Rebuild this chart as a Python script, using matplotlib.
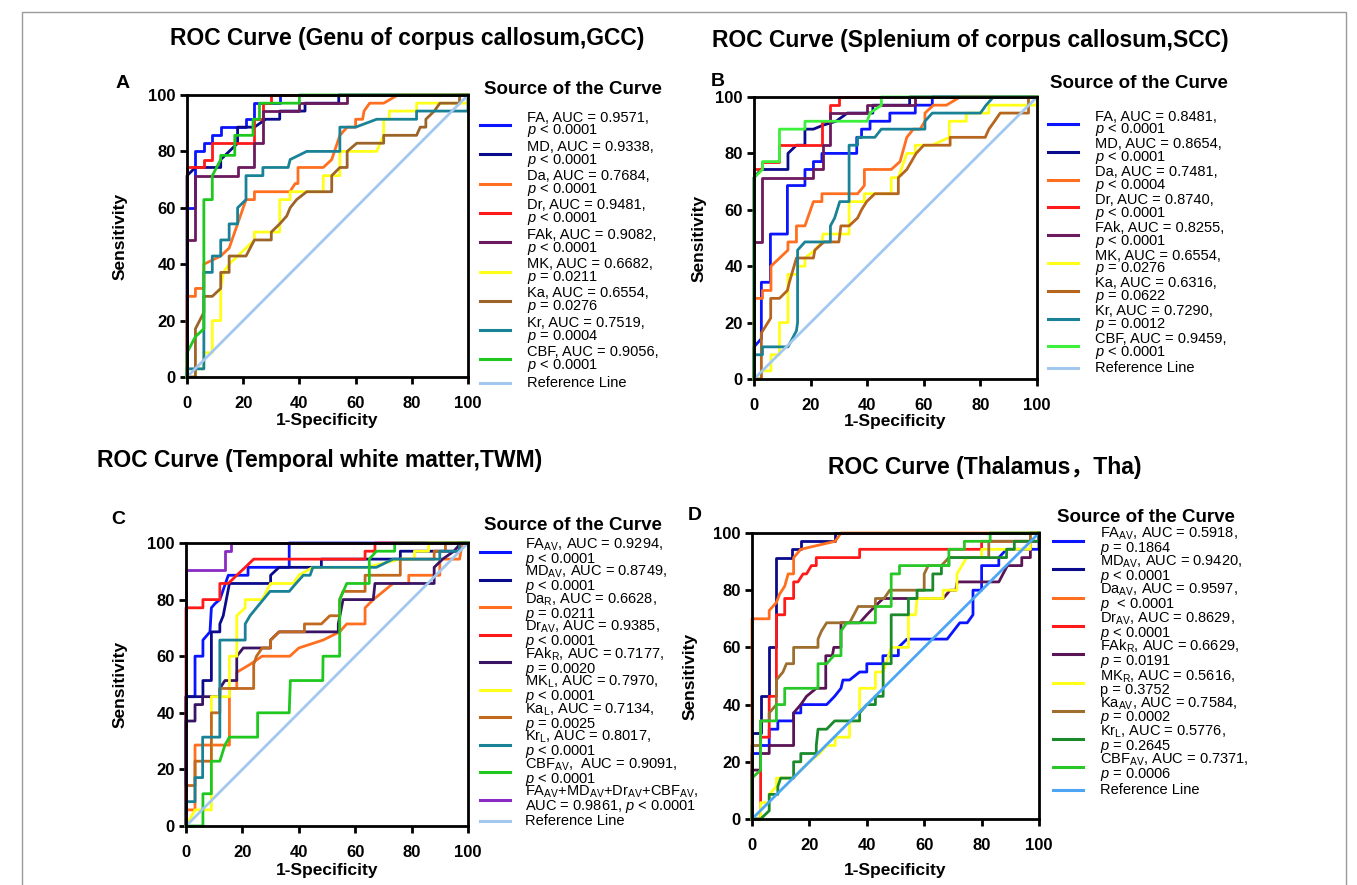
import matplotlib
matplotlib.use('Agg')
import matplotlib.pyplot as plt
from matplotlib.patches import Rectangle
from matplotlib.lines import Line2D

plt.rcParams['font.family'] = ['Liberation Sans', 'Noto Sans CJK SC', 'DejaVu Sans']
plt.rcParams['mathtext.fontset'] = 'custom'
plt.rcParams['mathtext.rm'] = 'Liberation Sans'
plt.rcParams['mathtext.it'] = 'Liberation Sans:italic'
plt.rcParams['mathtext.bf'] = 'Liberation Sans:bold'

# ---- data: ROC vertices (1-specificity %, sensitivity %) ----
# A: genu of corpus callosum
gcc_fa = [(0,0),(0,60),(3,60),(3,80),(6,80),(6,82.9),(9,82.9),(9,85.7),(12,85.7),(12,88.6),(21,88.6),(21,91.4),(24,91.4),(24,97.1),(33,97.1),(33,100),(100,100)]
gcc_md = [(0,0),(0,71.4),(3,74.3),(12,74.3),(12,77.1),(15,80),(18,82.9),(18,88.6),(24,88.6),(28,91.4),(33,91.4),(33,94.3),(42,94.3),(42,97.1),(54,97.1),(54,100),(100,100)]
gcc_da = [(0,0),(0,28.6),(3,28.6),(3,31.4),(6,31.4),(6,40),(12,42.9),(15,45.7),(18,54.3),(20,60),(21,62.9),(24,62.9),(24,65.7),(36.6,65.7),(38.5,68.6),(39.5,68.6),(39.5,74.3),(48.5,74.3),(51.5,77.1),(54.4,85.7),(57,88.6),(60,88.6),(60,91.4),(62.5,91.4),(63,94.3),(65,97.1),(70,97.1),(75,100),(100,100)]
gcc_dr = [(0,0),(0,74.3),(6,74.3),(6,77.1),(9,77.1),(9,82.9),(24,82.9),(24,91.4),(27,91.4),(27,97.1),(30,97.1),(30,100),(100,100)]
gcc_fak = [(0,0),(0,48.6),(3,48.6),(3,71.4),(18,71.4),(18,74.3),(24,74.3),(24,82.9),(27,82.9),(27,94.3),(40,94.3),(40,97.1),(57,97.1),(57,100),(100,100)]
gcc_mk = [(0,0),(3,0),(3,2.9),(6,2.9),(6,8.6),(9,8.6),(9,20),(12,20),(12,31.4),(13,37.1),(15,40),(18,42.9),(21,45.7),(24,48.6),(24,51.4),(33,51.4),(33,62.9),(36.7,62.9),(36.7,65.7),(48.5,65.7),(48.5,71.4),(54.4,71.4),(54.4,80),(67.5,80),(70,85.7),(70,91.4),(72,91.4),(72,94.3),(81.7,94.3),(81.7,97.1),(100,97.1),(100,100)]
gcc_ka = [(0,0),(3,0),(3,17.1),(6,22.9),(6,28.6),(9,28.6),(12,31.4),(12,37.1),(15,37.1),(15,42.9),(21,42.9),(24,48.6),(30,48.6),(30,51.4),(33,54.3),(35.5,57.1),(36.7,60),(39,62.9),(42.6,65.7),(51.5,65.7),(51.5,71.4),(54.4,74.3),(57,74.3),(57,80),(60.4,82.9),(70,82.9),(70,85.7),(81.7,85.7),(83,88.6),(85,88.6),(85,91.4),(88,94.3),(90,97.1),(97,97.1),(97,100),(100,100)]
gcc_kr = [(0,0),(0,2.9),(6,2.9),(6,37.1),(9,37.1),(9,42.9),(12,42.9),(12,48.6),(15,48.6),(15,54.3),(18,54.3),(18,60),(21,62.9),(21,71.4),(27,71.4),(27,74.3),(36,74.3),(36.7,77.1),(42.6,80),(54.4,80),(54.4,88.6),(60,88.6),(67.5,91.4),(81.7,91.4),(81.7,94.3),(100,94.3),(100,100)]
gcc_cbf = [(0,0),(0,8.6),(3,14.3),(6,17.1),(6,62.9),(9,62.9),(9,71.4),(12,77.1),(12,78.6),(17,78.6),(17,85.7),(23.5,85.7),(23.5,91.4),(25.8,91.4),(25.8,97.1),(40,97.1),(40,100),(100,100)]
gcc_labels = ["FA, AUC = 0.9571,\n$p$ < 0.0001", "MD, AUC = 0.9338,\n$p$ < 0.0001",
              "Da, AUC = 0.7684,\n$p$ < 0.0001", "Dr, AUC = 0.9481,\n$p$ < 0.0001",
              "FAk, AUC = 0.9082,\n$p$ < 0.0001", "MK, AUC = 0.6682,\n$p$ = 0.0211",
              "Ka, AUC = 0.6554,\n$p$ = 0.0276", "Kr, AUC = 0.7519,\n$p$ = 0.0004",
              "CBF, AUC = 0.9056,\n$p$ < 0.0001"]

# B: splenium of corpus callosum
scc_fa = [(0,0),(0,11.4),(2.6,14.3),(2.6,34.3),(5.8,34.3),(5.8,51.4),(11.8,51.4),(11.8,68.6),(18,68.6),(18,74.3),(21,74.3),(21,77.1),(24,77.1),(24,80),(36.3,80),(36.3,85.7),(38,85.7),(38,88.6),(41,88.6),(41,91.4),(48,91.4),(48,94.3),(57,94.3),(57,97.1),(63,97.1),(63,100),(100,100)]
scc_md = [(0,0),(0,71.4),(2.5,74.3),(12,74.3),(12,80),(15,82.9),(18,82.9),(18,88.6),(21,88.6),(24.4,90),(29,91.4),(33,94.3),(42,94.3),(42,97.1),(55,97.1),(55,100),(100,100)]
scc_da = [(0,0),(0,28.6),(3,28.6),(3,31.4),(6,31.4),(6,40),(12,45.7),(12,48.6),(15,48.6),(15,54.3),(18,54.3),(21,62.9),(24,62.9),(24,65.7),(36.6,65.7),(39,68.6),(39,74.3),(48.5,74.3),(51.6,77.1),(54,85.7),(56.3,88.6),(58.7,88.6),(60.4,91.4),(60.4,94.3),(63.4,97.1),(68,97.1),(72.8,100),(100,100)]
scc_dr = [(0,0),(0,74.3),(3,74.3),(3,77.1),(9,77.1),(9,82.9),(24,82.9),(24,91.4),(27,91.4),(27,97.1),(30,97.1),(30,100),(100,100)]
scc_fak = [(0,0),(0,48.6),(3,48.6),(3,71.4),(21,71.4),(21,74.3),(24.5,74.3),(24.5,82.9),(27,82.9),(27,94.3),(40,94.3),(40,97.1),(57,97.1),(57,100),(100,100)]
scc_mk = [(0,0),(2.6,0),(2.6,2.9),(6,2.9),(6,8.6),(9,8.6),(9,20),(12,20),(12,37.1),(15.4,37.1),(15.4,40),(18,40),(18,42.9),(21.5,45.7),(24,48.6),(24.4,51.4),(33.6,51.4),(33.6,62.9),(39,62.9),(39,65.7),(48.5,65.7),(48.5,71.4),(51,71.4),(54,80),(57,80),(57,82.9),(63,82.9),(69,85.7),(69,91.4),(75,91.4),(75,94.3),(83,94.3),(83,97.1),(100,97.1),(100,100)]
scc_ka = [(0,0),(2.6,0),(2.6,16.3),(5.9,21.6),(5.9,28.6),(9,28.6),(11.8,31.4),(12.5,34.3),(15,42.9),(21,42.9),(21.5,45.7),(24.7,48.6),(30,48.6),(30.7,54.3),(33.6,54.3),(36.6,57.1),(38,60),(39.8,62.9),(42.7,65.7),(51,65.7),(51,71.4),(54,74.3),(57.3,80),(60,82.9),(69.3,82.9),(69.3,85.7),(81.7,85.7),(83,88.6),(85,91.4),(87,94.3),(97,94.3),(97,100),(100,100)]
scc_kr = [(0,0),(0,8.6),(3,8.6),(3,11.4),(12,11.4),(15,17.1),(15.4,20),(15.4,45.7),(18,48.6),(27,48.6),(27,54.3),(28.5,57.1),(30.3,62.9),(33.6,62.9),(33.6,82.9),(36.6,82.9),(36.6,85.7),(42.7,85.7),(45,88.6),(60.4,88.6),(60.4,91.4),(63,94.3),(80,94.3),(82,97.1),(84.6,100),(100,100)]
scc_cbf = [(0,0),(0,71.4),(3,74.3),(3,77.1),(9,77.1),(9,88.6),(18,88.6),(18,91.4),(40,91.4),(41,94.3),(45,97.1),(45,100),(100,100)]
scc_labels = ["FA, AUC = 0.8481,\n$p$ < 0.0001", "MD, AUC = 0.8654,\n$p$ < 0.0001",
              "Da, AUC = 0.7481,\n$p$ < 0.0004", "Dr, AUC = 0.8740,\n$p$ < 0.0001",
              "FAk, AUC = 0.8255,\n$p$ < 0.0001", "MK, AUC = 0.6554,\n$p$ = 0.0276",
              "Ka, AUC = 0.6316,\n$p$ = 0.0622", "Kr, AUC = 0.7290,\n$p$ = 0.0012",
              "CBF, AUC = 0.9459,\n$p$ < 0.0001"]

# C: temporal white matter
twm_fa = [(0,0),(0,45.7),(3.2,45.7),(3.2,60),(6,60),(6,65.7),(8.5,68.6),(9,77.1),(10.3,78.6),(12,80),(15,88.6),(22,88.6),(22,91.4),(36.6,91.4),(36.6,100),(100,100)]
twm_md = [(0,0),(0,45.7),(6,45.7),(6,51.4),(9,51.4),(9,68.6),(12,68.6),(12,71.4),(13.2,74.3),(15.4,85.7),(30,85.7),(30,88.6),(33,91.4),(48,91.4),(48,94.3),(76,94.3),(76,97.1),(97,97.1),(97,100),(100,100)]
twm_da = [(0,0),(0,5.7),(3.2,5.7),(3.2,28.6),(15.4,28.6),(15.4,48.6),(18,48.6),(18,54.3),(22.7,57.1),(27,60),(36.8,60),(40,62.9),(48.6,65.7),(54.5,68.6),(57,71.4),(63.5,71.4),(63.5,77.1),(66.4,80),(70,82.9),(73.4,85.7),(79,85.7),(79,88.6),(90,88.6),(90,94.3),(97,94.3),(98,100),(100,100)]
twm_dr = [(0,0),(0,77.1),(6,77.1),(6,80),(12,80),(12,85.7),(15,85.7),(18,88.6),(21,91.4),(24,94.3),(63.5,94.3),(63.5,97.1),(67,97.1),(67,100),(100,100)]
twm_fak = [(0,0),(0,37.1),(3.2,37.1),(3.2,42.9),(5.9,42.9),(5.9,45.7),(12,45.7),(12,48.6),(13.8,51.4),(18,51.4),(18,60),(20.3,62.9),(30,62.9),(30,65.7),(33,68.6),(54,68.6),(54,71.4),(55.7,80),(66.4,80),(67,85.7),(88,85.7),(88,91.4),(91,94.3),(95,97.1),(97.5,100),(100,100)]
twm_mk = [(0,0),(3.2,5.7),(9,5.7),(9,45.7),(15.4,45.7),(15.4,60),(18,60),(18,74.3),(21,77.1),(21,80),(27,80),(30,85.7),(38,85.7),(40,88.6),(45,91.4),(64,91.4),(76,94.3),(81,94.3),(81,97.1),(86,97.1),(86,100),(100,100)]
twm_ka = [(0,0),(0,14.3),(3.2,14.3),(3.2,22.9),(9,22.9),(9,40),(12,40),(12,48.6),(24,48.6),(24,57.1),(25,60),(27,62.9),(30,62.9),(30,65.7),(33,68.6),(42,68.6),(42,71.4),(48,71.4),(51,74.3),(54.5,74.3),(54.5,80),(55.7,82.9),(63.5,82.9),(63.5,88.6),(76,88.6),(76,94.3),(88,94.3),(88,97.1),(92,97.1),(92,100),(100,100)]
twm_kr = [(0,0),(0,8.6),(3.2,8.6),(3.2,17.1),(5.9,17.1),(5.9,31.4),(12,31.4),(12,65.7),(21,65.7),(21,71.4),(22.7,74.3),(25,77.1),(27.4,80),(29.8,82.9),(36.6,82.9),(39,85.7),(41.6,88.6),(44,88.6),(45,91.4),(67.5,91.4),(73.4,94.3),(90,94.3),(90,97.1),(97,97.1),(97,100),(100,100)]
twm_cbf = [(0,0),(6,0),(6,11.4),(9,11.4),(9,22.9),(12,22.9),(13.8,28.6),(15.4,31.4),(25.4,31.4),(25.4,40),(36.6,40),(37,51.4),(48.5,51.4),(48.6,60),(54.5,60),(54.5,80),(57,85.7),(65,85.7),(65,94.3),(67.5,97.1),(74,97.1),(74,100),(100,100)]
twm_comb = [(0,0),(0,90.6),(14,90.6),(14,97.1),(16,97.1),(16,100),(100,100)]
twm_labels = ["FA$_{\\mathrm{AV}}$, AUC = 0.9294,\n$p$ < 0.0001",
              "MD$_{\\mathrm{AV}}$, AUC = 0.8749,\n$p$ < 0.0001",
              "Da$_{\\mathrm{R}}$, AUC = 0.6628,\n$p$ = 0.0211",
              "Dr$_{\\mathrm{AV}}$, AUC = 0.9385,\n$p$ < 0.0001",
              "FAk$_{\\mathrm{R}}$, AUC = 0.7177,\n$p$ = 0.0020",
              "MK$_{\\mathrm{L}}$, AUC = 0.7970,\n$p$ < 0.0001",
              "Ka$_{\\mathrm{L}}$, AUC = 0.7134,\n$p$ = 0.0025",
              "Kr$_{\\mathrm{L}}$, AUC = 0.8017,\n$p$ < 0.0001",
              "CBF$_{\\mathrm{AV}}$,  AUC = 0.9091,\n$p$ < 0.0001",
              "FA$_{\\mathrm{AV}}$+MD$_{\\mathrm{AV}}$+Dr$_{\\mathrm{AV}}$+CBF$_{\\mathrm{AV}}$,\nAUC = 0.9861, $p$ < 0.0001"]

# D: thalamus
tha_fa = [(0,0),(0,22.9),(3,22.9),(3,25.7),(6,25.7),(6,31.4),(9,31.4),(9,34.3),(14.5,34.3),(14.5,37.1),(17,37.1),(17,40),(26,40),(28.8,42.9),(31,45.7),(31.7,48.6),(34,48.6),(37.5,51.4),(40,51.4),(40,54.3),(45.6,54.3),(45.6,57.1),(51,57.1),(51,60),(54,62.9),(68,62.9),(72.4,68.6),(75,68.6),(77,71.4),(77,80),(80,80),(80,88.6),(86,88.6),(86,91.4),(88.7,94.3),(100,94.3),(100,100)]
tha_md = [(0,0),(0,30),(3,30),(3,42.9),(6,42.9),(6,60),(8.5,60),(8.5,91.4),(14,91.4),(14,94.3),(17,94.3),(17,97.1),(29,97.1),(29,100),(100,100)]
tha_da = [(0,0),(0,70),(6,70),(6,72.9),(8.5,75.7),(9.6,78.6),(11.4,81.4),(12.6,85.7),(14.5,85.7),(14.5,91.4),(17,94.3),(29,97.1),(31,100),(100,100)]
tha_dr = [(0,0),(3,0),(3,28.6),(6,28.6),(6,42.9),(8.5,42.9),(8.5,71.4),(11.4,71.4),(11.4,77.1),(14.5,77.1),(14.5,82.9),(16,82.9),(17.8,85.7),(19,85.7),(20.7,88.6),(22.4,88.6),(22.4,91.4),(37.5,91.4),(37.5,94.3),(80,94.3),(80,97.1),(97,97.1),(97,100),(100,100)]
tha_fak = [(0,0),(0,17.1),(3,17.1),(3,22.9),(6,22.9),(6,25.7),(14.5,25.7),(14.5,37.1),(17,40),(19,42.9),(22.4,45.7),(25.7,45.7),(25.7,57.1),(28,57.1),(28.5,60),(31,60),(31,68.6),(37.5,68.6),(40,71.4),(42.8,74.3),(45.7,77.1),(66.6,77.1),(69,80),(71,80),(71.5,82.9),(86,82.9),(89,88.6),(94,88.6),(94,91.4),(97,91.4),(97,97.1),(100,97.1),(100,100)]
tha_mk = [(0,0),(3,0),(3,5.7),(6,5.7),(6,8.6),(8.5,11.4),(8.5,14.3),(14.5,14.3),(17,17.1),(20,20),(23.6,22.9),(26,25.7),(29,25.7),(29,28.6),(34,28.6),(34,34.3),(37.5,34.3),(37.5,45.7),(43,45.7),(43,51.4),(45.7,51.4),(48.5,60),(54.5,60),(54.5,71.4),(57,71.4),(57.5,77.1),(66.6,77.1),(66.6,80),(71.4,80),(71.4,85.7),(74.8,91.4),(80,91.4),(80,94.3),(97,94.3),(97,100),(100,100)]
tha_ka = [(0,0),(0,25.7),(3,25.7),(3,34.3),(6,34.3),(6,37.1),(7.3,38.6),(8.5,40),(8.5,48.6),(10.8,51.4),(12,54.3),(14.5,54.3),(14.5,60),(23,60),(23,62.9),(24.2,65.7),(26,68.6),(34,68.6),(37,74.3),(43,74.3),(43,77.1),(46,77.1),(48,80),(60,80),(60,85.7),(61.4,88.6),(66,88.6),(68.6,91.4),(82.5,91.4),(82.5,97.1),(97,97.1),(97,100),(100,100)]
tha_kr = [(0,0),(3,0),(6,2.9),(6,8.6),(9,8.6),(9,11.4),(10,14.3),(14.5,14.3),(14.5,20),(17,20),(17,22.9),(22.4,22.9),(22.4,25.7),(23,31.4),(26,31.4),(28.8,34.3),(37.5,34.3),(37.5,37.1),(40,40),(43,40),(43,42.9),(45.7,42.9),(45.7,54.3),(48.5,54.3),(48.5,71.4),(54.5,71.4),(54.5,77.1),(57.5,77.1),(57.5,80),(63,80),(63,85.7),(66,85.7),(66,88.6),(68.6,88.6),(68.6,91.4),(88.7,91.4),(88.7,94.3),(91.4,94.3),(91.4,97.1),(100,97.1),(100,100)]
tha_cbf = [(0,0),(0,14.3),(3,17.1),(3,34.3),(8.5,34.3),(8.5,40),(11.4,40),(11.4,45.7),(23,45.7),(23,54.3),(26,54.3),(28.5,57.1),(31,57.1),(31,65.7),(33,68.6),(43,68.6),(43,74.3),(48.5,74.3),(48.5,85.7),(51.4,85.7),(51.4,88.6),(68.6,88.6),(68.6,94.3),(74,94.3),(74,97.1),(83,97.1),(83,100),(100,100)]
tha_labels = ["FA$_{\\mathrm{AV}}$, AUC = 0.5918,\n$p$ = 0.1864",
              "MD$_{\\mathrm{AV}}$, AUC = 0.9420,\n$p$ < 0.0001",
              "Da$_{\\mathrm{AV}}$, AUC = 0.9597,\n$p$  < 0.0001",
              "Dr$_{\\mathrm{AV}}$, AUC = 0.8629,\n$p$ < 0.0001",
              "FAk$_{\\mathrm{R}}$, AUC = 0.6629,\n$p$ = 0.0191",
              "MK$_{\\mathrm{R}}$, AUC = 0.5616,\np = 0.3752",
              "Ka$_{\\mathrm{AV}}$, AUC = 0.7584,\n$p$ = 0.0002",
              "Kr$_{\\mathrm{L}}$, AUC = 0.5776,\n$p$ = 0.2645",
              "CBF$_{\\mathrm{AV}}$, AUC = 0.7371,\n$p$ = 0.0006"]

ref_line = [(0, 0), (100, 100)]

W, H = 1357, 885


def fx(px):
    return px / W


def fy(py):
    return 1 - py / H


def draw_legend(fig, labels, colors, hx0, hx1, tx, top0, pitch, title_xy):
    fig.text(fx(title_xy[0]), fy(title_xy[1]), 'Source of the Curve', fontsize=13.5,
             fontweight='bold', ha='left', va='center')
    for i, (lab, c) in enumerate(zip(labels, colors)):
        top = top0 + i * pitch
        nlines = lab.count('\n') + 1
        yc = top + 6 * nlines
        fig.add_artist(Line2D([fx(hx0), fx(hx1)], [fy(yc), fy(yc)], color=c, lw=2.2,
                              transform=fig.transFigure))
        fig.text(fx(tx), fy(yc), lab, fontsize=10.5, ha='left', va='center',
                 linespacing=0.82)


def draw_panel(fig, box, curves, labels, colors, ref_color, title, title_xy,
               letter, letter_xy, xlab_y, ylab_x, leg):
    l, t, r, b = box
    ax = fig.add_axes([fx(l), fy(b), fx(r - l), (b - t) / H])
    for pts, c in zip(curves, colors):
        ax.plot([p[0] for p in pts], [p[1] for p in pts], color=c, lw=2.0, clip_on=False)
    ax.plot([p[0] for p in ref_line], [p[1] for p in ref_line], color=ref_color, lw=2.0)

    ax.set_xlim(0, 100)
    ax.set_ylim(0, 100)
    ax.set_xticks([0, 20, 40, 60, 80, 100])
    ax.set_yticks([0, 20, 40, 60, 80, 100])
    for s in ax.spines.values():
        s.set_linewidth(2.0)
    ax.tick_params(direction='out', length=5, width=2.0, labelsize=12, pad=3)
    ax.tick_params(axis='x', pad=8.5)
    for lbl in ax.get_xticklabels() + ax.get_yticklabels():
        lbl.set_fontweight('bold')
    ax.set_xlabel('1-Specificity', fontsize=12.5, fontweight='bold')
    ax.set_ylabel('Sensitivity', fontsize=12.5, fontweight='bold')
    ax.xaxis.set_label_coords(0.5, xlab_y)
    ax.yaxis.set_label_coords(ylab_x, 0.5)

    fig.text(fx(title_xy[0]), fy(title_xy[1]), title, fontsize=16.5, fontweight='bold',
             ha='center', va='center')
    fig.text(fx(letter_xy[0]), fy(letter_xy[1]), letter, fontsize=14, fontweight='bold',
             ha='center', va='center')

    draw_legend(fig, labels + ['Reference Line'], colors + [ref_color], *leg)
    return ax


fig = plt.figure(figsize=(W / 100, H / 100), dpi=100)

# thin frame around the whole figure
fig.patches.append(Rectangle((fx(22), fy(887)), fx(1346 - 22), (887 - 12) / H,
                             transform=fig.transFigure, fill=False,
                             edgecolor='#9a9a9a', lw=1.0))

blue, navy, orange, red, yellow, teal = '#0a14ff', '#0a0a8c', '#ff6f1f', '#ff1a1a', '#ffff1a', '#1a8296'

draw_panel(fig, (187, 95, 468, 377),
           [gcc_fa, gcc_md, gcc_da, gcc_dr, gcc_fak, gcc_mk, gcc_ka, gcc_kr, gcc_cbf], gcc_labels,
           [blue, navy, orange, red, '#6b1a5e', yellow, '#9c6428', teal, '#1ec81e'], '#a3c8f0',
           'ROC Curve (Genu of corpus callosum,GCC)', (407, 38), 'A', (123, 84),
           -0.128, -0.213, (480, 510, 527, 113, 29.3, (484, 89)))

draw_panel(fig, (754, 97, 1037, 379),
           [scc_fa, scc_md, scc_da, scc_dr, scc_fak, scc_mk, scc_ka, scc_kr, scc_cbf], scc_labels,
           [blue, navy, orange, red, '#6b1a5e', yellow, '#b5651d', teal, '#3cf03c'], '#a3c8f0',
           'ROC Curve (Splenium of corpus callosum,SCC)', (970, 40), 'B', (718, 82),
           -0.124, -0.166, (1048, 1078, 1095, 112, 27.8, (1050, 84)))

draw_panel(fig, (186, 543, 468, 826),
           [twm_fa, twm_md, twm_da, twm_dr, twm_fak, twm_mk, twm_ka, twm_kr, twm_cbf, twm_comb],
           twm_labels,
           [blue, navy, orange, red, '#3a1464', yellow, '#c0691f', teal, '#1ec81e', '#8a2bc2'],
           '#a3c8f0',
           'ROC Curve (Temporal white matter,TWM)', (320, 460), 'C', (118, 519),
           -0.131, -0.206, (480, 510, 525, 540, 27.5, (484, 525)))

draw_panel(fig, (752, 533, 1039, 819),
           [tha_fa, tha_md, tha_da, tha_dr, tha_fak, tha_mk, tha_ka, tha_kr, tha_cbf], tha_labels,
           [blue, navy, orange, red, '#5a1456', yellow, '#9e6e2e', '#1a8a2a', '#28c828'], '#4ca6f5',
           'ROC Curve (Thalamus\uff0cTha)', (985, 467), 'D', (695, 516),
           -0.155, -0.19, (1053, 1083, 1100, 529, 28.3, (1057, 518)))

fig.savefig('out.png', dpi=100)
